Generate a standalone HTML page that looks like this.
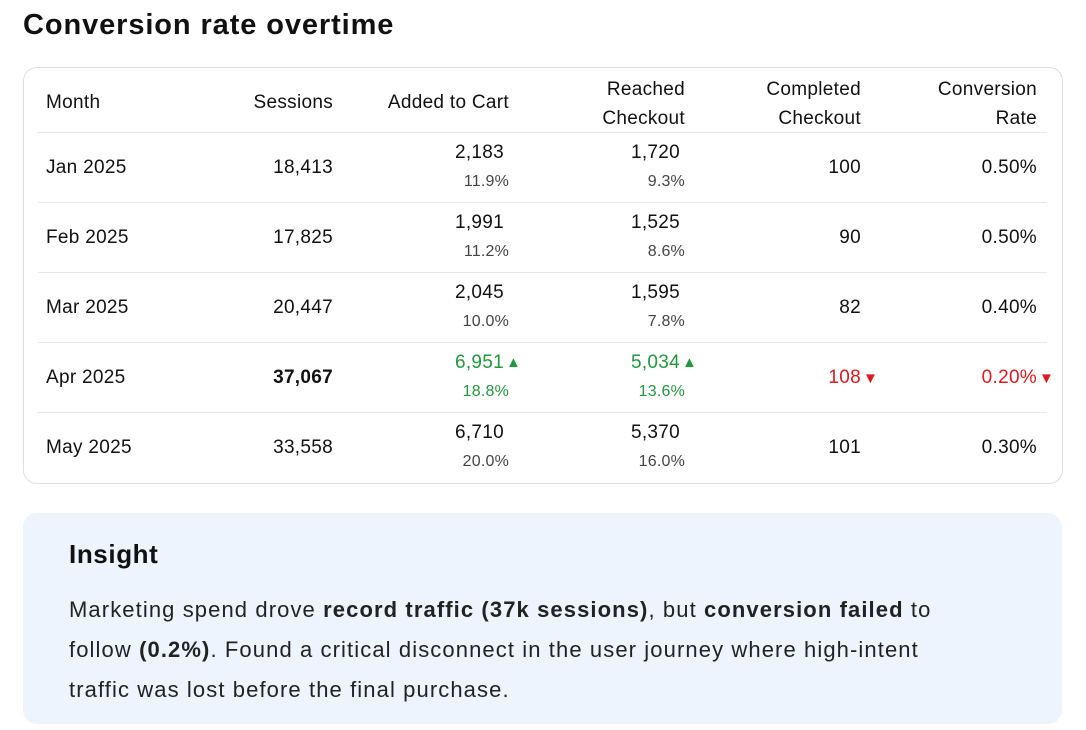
<!DOCTYPE html>
<html><head><meta charset="utf-8"><style>
body{margin:0;width:1086px;height:730px;background:#fff;font-family:"Liberation Sans",sans-serif;color:#111;position:relative;overflow:hidden}
.a{position:absolute;white-space:nowrap}
h1{position:absolute;left:23px;top:9px;margin:0;font-size:29px;font-weight:bold;letter-spacing:0.9px}
.card{position:absolute;left:23px;top:67px;width:1038px;height:415px;border:1px solid #dedede;border-radius:14px}
.sep{position:absolute;left:38px;width:1009px;height:1px;background:#e8e8e8}
.t{font-size:19px;line-height:22px;letter-spacing:0.3px}
.s{font-size:16px;color:#444;line-height:20px;letter-spacing:0.2px}
.r{text-align:right}
.g{color:#1f9a3a}.red{color:#e0181b}
.ins{position:absolute;left:23px;top:513px;width:1039px;height:211px;background:#edf4fd;border-radius:14px}
</style></head><body>
<h1>Conversion rate overtime</h1>
<div class="card"></div>
<div id="tbl"></div>
<div class="ins">
<div class="a" style="left:46px;top:26px;font-size:26px;font-weight:bold;letter-spacing:0.6px">Insight</div>
<div class="a" style="left:46px;top:77px;font-size:22px;line-height:40px;white-space:normal;width:905px;color:#222;letter-spacing:1.1px">Marketing spend drove <b>record traffic (37k sessions)</b>, but <b>conversion failed</b> to follow <b>(0.2%)</b>. Found a critical disconnect in the user journey where high-intent traffic was lost before the final purchase.</div>
</div>
<script>
const months=["Jan 2025","Feb 2025","Mar 2025","Apr 2025","May 2025"];
const sessions=["18,413","17,825","20,447","37,067","33,558"];
const cart=["2,183","1,991","2,045","6,951","6,710"];
const cartPct=["11.9%","11.2%","10.0%","18.8%","20.0%"];
const checkout=["1,720","1,525","1,595","5,034","5,370"];
const checkoutPct=["9.3%","8.6%","7.8%","13.6%","16.0%"];
const completed=["100","90","82","108","101"];
const rate=["0.50%","0.50%","0.40%","0.20%","0.30%"];
const highlight=3;
const T=document.getElementById('tbl');
function add(html,left,top,cls,name,w){
  const d=document.createElement('div');
  d.className='a '+cls;
  d.innerHTML=html;
  d.style.top=top+'px';
  if(cls.includes(' r')||cls.startsWith('r')){d.style.left=(left-w)+'px';d.style.width=w+'px';}
  else d.style.left=left+'px';
  
  
  T.appendChild(d);return d;
}
add('Month',46,92,'t','header-month');
add('Sessions',333,92,'t r','header-sessions',150);
add('Added to Cart',509,92,'t r','header-added-to-cart',180);
add('Reached<br>Checkout',685,75,'t r','header-reached-checkout',150).style.lineHeight='29px';
add('Completed<br>Checkout',861,75,'t r','header-completed-checkout',150).style.lineHeight='29px';
add('Conversion<br>Rate',1037,75,'t r','header-conversion-rate',150).style.lineHeight='29px';
for(let i=0;i<months.length;i++){
  const y=132+i*70;
  const s=document.createElement('div');s.className='sep';s.style.top=y+'px';
  
  
  T.appendChild(s);
  const h=i===highlight;
  const up='<span style="font-size:15px;position:absolute;left:100%;margin-left:2px;top:0px">▲</span>';
  const dn='<span style="font-size:15px;position:absolute;left:100%;margin-left:2px;top:1px">▼</span>';
  add(months[i],46,y+25,'t','month-cell');
  add(h?'<b>'+sessions[i]+'</b>':sessions[i],333,y+25,'t r','sessions-cell',150);
  add(cart[i]+(h?up:''),504,y+10,'t r'+(h?' g':''),'cart-cell',150);
  add(cartPct[i],509,y+40,'s r'+(h?' g':''),'cart-pct-cell',150);
  add(checkout[i]+(h?up:''),680,y+10,'t r'+(h?' g':''),'checkout-cell',150);
  add(checkoutPct[i],685,y+40,'s r'+(h?' g':''),'checkout-pct-cell',150);
  add(completed[i]+(h?dn:''),861,y+25,'t r'+(h?' red':''),'completed-cell',150);
  add(rate[i]+(h?dn:''),1037,y+25,'t r'+(h?' red':''),'rate-cell',150);
}
</script>
</body></html>
